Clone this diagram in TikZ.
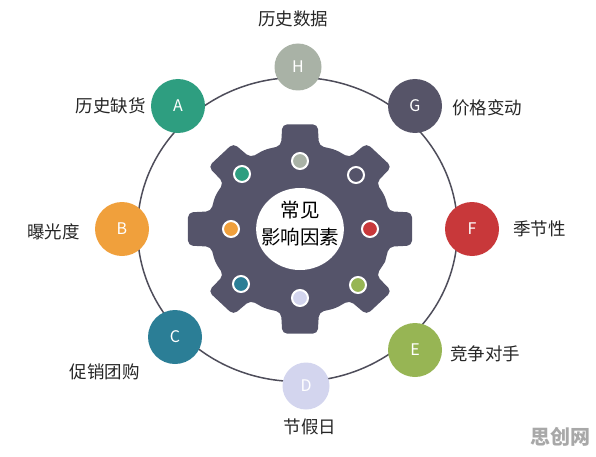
\documentclass[tikz,border=0pt]{standalone}
\usepackage{fontspec}
\setmainfont{Noto Sans CJK SC}
\usetikzlibrary{positioning}

\definecolor{gearcol}{HTML}{55546A}
\definecolor{ringcol}{HTML}{4E4D5A}
\definecolor{colA}{HTML}{2E9E80}
\definecolor{colB}{HTML}{F0A03C}
\definecolor{colC}{HTML}{2B7E96}
\definecolor{colD}{HTML}{D3D5EE}
\definecolor{colE}{HTML}{97B554}
\definecolor{colF}{HTML}{C8383A}
\definecolor{colG}{HTML}{565468}
\definecolor{colH}{HTML}{A9B2A6}
\definecolor{markcol}{HTML}{A8A8A8}

\tikzset{
  factor/.style={circle, fill=#1, minimum size=54pt, inner sep=0pt, text=white, font=\fontsize{16}{16}\selectfont},
  smallfactor/.style={factor=#1, minimum size=47pt},
  lbl/.style={inner sep=0pt, text=black!85, font=\fontsize{17.5}{20}\selectfont},
  gdot/.style={circle, fill=#1, draw=white, line width=2pt, minimum size=16pt, inner sep=0pt}
}

\begin{document}
\begin{tikzpicture}[x=1pt, y=1pt]
\useasboundingbox (0,0) rectangle (596,456);

% Outer ring
\draw[line width=1.5pt, ringcol] (297.5,226.5) ellipse (160 and 152);

% Gear in the middle
\begin{scope}[shift={(300,227)}, xscale=1.07]
\fill[gearcol, rounded corners=5pt] (-22.5:86) \foreach \a in {0,45,...,315}{ -- (\a-12:85) -- (\a-9:106) -- (\a+9:106) -- (\a+12:85) -- (\a+22.5:86)};
\fill[white] (0,0) circle (41);
\end{scope}

% Small dots on the gear
\node[gdot=colH] (dotH) at (300,295) {};
\node[gdot=gearcol] (dotG) at (356,281) {};
\node[gdot=colF] (dotF) at (370,227) {};
\node[gdot=colE] (dotE) at (358,171) {};
\node[gdot=colD] (dotD) at (300,158) {};
\node[gdot=colC] (dotC) at (241,172) {};
\node[gdot=colB] (dotB) at (231,227) {};
\node[gdot=colA] (dotA) at (242,282) {};

% Centre text
\node[align=center, font=\fontsize{19.5}{27}\selectfont] (center) at (300,232) {常见\\影响因素};

% Factors round the ring
\node[factor=colA] (A) at (178,350) {A};
\node[factor=colB] (B) at (122,227) {B};
\node[factor=colC] (C) at (175,119) {C};
\node[smallfactor=colD] (D) at (306,70) {D};
\node[factor=colE] (E) at (415,106) {E};
\node[factor=colF] (F) at (472,227) {F};
\node[factor=colG] (G) at (415,350) {G};
\node[smallfactor=colH] (H) at (298,389) {H};

% Labels
\node[lbl, left=5pt of A] (labA) {历史缺货};
\node[lbl, left=15pt of B, yshift=-3pt] (labB) {曝光度};
\node[lbl, below left=7pt and 16pt of C] (labC) {促销团购};
\node[lbl, below=9pt of D, xshift=4pt] (labD) {节假日};
\node[lbl, right=8pt of E, yshift=-4pt] (labE) {竞争对手};
\node[lbl, right=14pt of F] (labF) {季节性};
\node[lbl, right=10pt of G, yshift=-2pt] (labG) {价格变动};
\node[lbl, above=16pt of H, xshift=-5pt] (labH) {历史数据};

% Watermark
\node[text=markcol, font=\bfseries\fontsize{20}{20}\selectfont] (mark) at (560,19) {思创网};
\end{tikzpicture}
\end{document}
